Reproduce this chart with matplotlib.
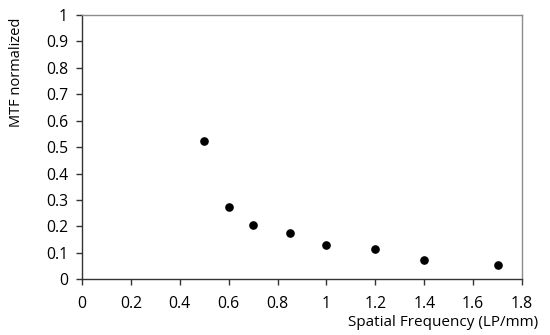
import matplotlib
matplotlib.use("Agg")
import matplotlib.pyplot as plt

freq = [0.5, 0.6, 0.7, 0.85, 1.0, 1.2, 1.4, 1.7]
mtf = [0.525, 0.275, 0.204, 0.174, 0.130, 0.116, 0.074, 0.055]
xticks = [0, 0.2, 0.4, 0.6, 0.8, 1, 1.2, 1.4, 1.6, 1.8]
yticks = [0, 0.1, 0.2, 0.3, 0.4, 0.5, 0.6, 0.7, 0.8, 0.9, 1]

plt.rcParams['font.family'] = ['Open Sans', 'DejaVu Sans']

fig = plt.figure(figsize=(5.5, 3.35), dpi=100)
ax = fig.add_axes([82/550, 1-279.3/335, (522-82)/550, (279.3-15)/335])
ax.plot(freq, mtf, 'o', color='black', markersize=5.2, linestyle='none')
ax.set_xlim(0, 1.8)
ax.set_ylim(0, 1)
ax.set_xticks(xticks)
ax.set_yticks(yticks)
ax.set_xticklabels([f"{t:g}" for t in xticks])
ax.set_yticklabels([f"{t:g}" for t in yticks])
ax.tick_params(direction='out', length=4, width=1, colors='#333333', labelsize=11.3, labelcolor='black')
ax.tick_params(axis='x', pad=8)
ax.tick_params(axis='y', pad=6)
for s in ['left', 'bottom']:
    ax.spines[s].set_color('#333333')
    ax.spines[s].set_linewidth(1)
for s in ['top', 'right']:
    ax.spines[s].set_color('#8c8c8c')
    ax.spines[s].set_linewidth(1)
fig.text(538/550, 1-322/335, 'Spatial Frequency (LP/mm)', ha='right', va='center', fontsize=11)
fig.text(17/550, 1-72/335, 'MTF normalized', ha='center', va='center', rotation=90, fontsize=10.5)
fig.savefig('out.png', dpi=100)
